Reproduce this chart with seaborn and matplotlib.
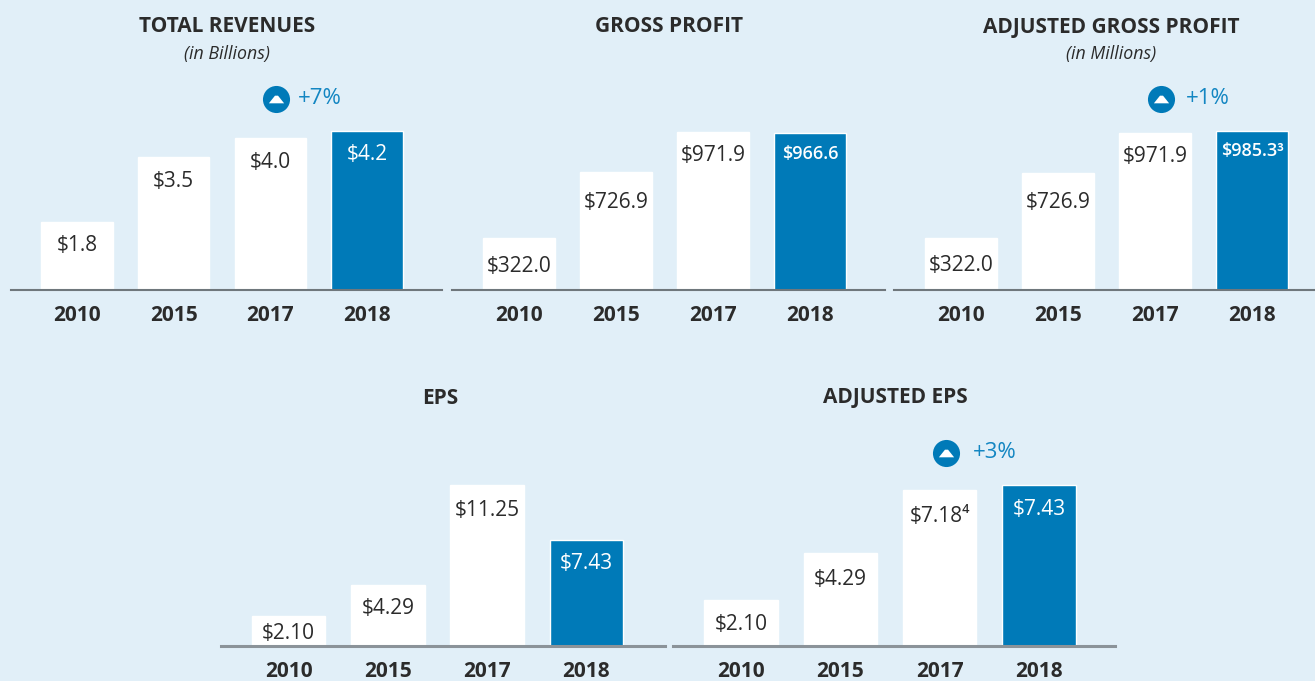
import matplotlib
matplotlib.use('Agg')
import matplotlib.pyplot as plt
import seaborn as sns

years = ['2010', '2015', '2017', '2018']

revenues = [1.8, 3.5, 4.0, 4.2]
gross_profit = [322.0, 726.9, 971.9, 966.6]
adj_gross_profit = [322.0, 726.9, 971.9, 985.3]
eps = [2.10, 4.29, 11.25, 7.43]
adj_eps = [2.10, 4.29, 7.18, 7.43]

revenue_labels = ['$1.8', '$3.5', '$4.0', '$4.2']
gross_labels = ['$322.0', '$726.9', '$971.9', '$966.6']
adj_gross_labels = ['$322.0', '$726.9', '$971.9', '$985.3³']
eps_labels = ['$2.10', '$4.29', '$11.25', '$7.43']
adj_eps_labels = ['$2.10', '$4.29', '$7.18⁴', '$7.43']

W, H = 1315, 681
BG = '#e1eff8'
BLUE = '#007ab8'
DARK = '#2b2b2b'

sns.set_theme(style='white', rc={'figure.facecolor': BG, 'axes.facecolor': BG})
plt.rcParams['font.family'] = ['Open Sans', 'DejaVu Sans']

# pixel layout: line left/right, baseline, first bar centre, bar spacing, px per unit
panels = [
    dict(vals=revenues, labels=revenue_labels, left=11, right=442, base=290, c0=77, step=96.7, scale=37.9,
         offs=[24, 24, 24, 24], small=[], lw=1.5, line='#6f777c'),
    dict(vals=gross_profit, labels=gross_labels, left=452, right=885, base=290, c0=519, step=97, scale=0.1626,
         offs=[29, 31, 24, 21], small=[3], lw=1.5, line='#6f777c'),
    dict(vals=adj_gross_profit, labels=adj_gross_labels, left=894, right=1315, base=290, c0=961, step=97, scale=0.1615,
         offs=[28, 30, 23, 20], small=[3], lw=1.5, line='#6f777c'),
    dict(vals=eps, labels=eps_labels, left=221, right=665, base=646, c0=288.5, step=99.3, scale=14.3,
         offs=[18, 24, 25, 24], small=[], lw=2.2, line='#8b9399'),
    dict(vals=adj_eps, labels=adj_eps_labels, left=673, right=1115, base=646, c0=741, step=99.3, scale=21.67,
         offs=[24, 26, 26, 25], small=[], lw=2.2, line='#8b9399'),
]

titles = [('TOTAL REVENUES', 227, 27), ('GROSS PROFIT', 669, 27), ('ADJUSTED GROSS PROFIT', 1111, 27),
          ('EPS', 440, 398), ('ADJUSTED EPS', 895, 398)]
subtitles = [('(in Billions)', 227, 54), ('(in Millions)', 1111, 54)]
badges = [('+7%', 276, 99, 320, 98), ('+1%', 1161, 99, 1208, 98), ('+3%', 946, 453, 995, 453)]

fig = plt.figure(figsize=(W / 100, H / 100), dpi=100)
palette = {'2010': 'white', '2015': 'white', '2017': 'white', '2018': BLUE}

for p in panels:
    ax_h = 175
    ax = fig.add_axes([p['left'] / W, 1 - p['base'] / H, (p['right'] - p['left']) / W, ax_h / H])
    sns.barplot(x=years, y=p['vals'], hue=years, order=years, hue_order=years, palette=palette,
                dodge=False, width=0.74, saturation=1, legend=False, ax=ax)
    ax.set_xlim((p['left'] - p['c0']) / p['step'], (p['right'] - p['c0']) / p['step'])
    ax.set_ylim(0, ax_h / p['scale'])
    ax.set_yticks([])
    ax.set_xlabel('')
    ax.set_ylabel('')
    sns.despine(ax=ax, left=True)
    ax.spines['bottom'].set_color(p['line'])
    ax.spines['bottom'].set_linewidth(p['lw'])
    ax.tick_params(axis='x', length=0, pad=11)
    for t in ax.get_xticklabels():
        t.set_fontsize(15)
        t.set_fontweight('bold')
        t.set_color(DARK)
    for i, (v, lab, off) in enumerate(zip(p['vals'], p['labels'], p['offs'])):
        ax.annotate(lab, (i, v), xytext=(0, -off), textcoords='offset pixels', ha='center', va='center',
                    fontsize=13 if i in p['small'] else 15,
                    fontweight='semibold' if i in p['small'] else 'medium',
                    color='white' if i == 3 else DARK)

for text, x, y in titles:
    fig.text(x / W, 1 - y / H, text, ha='center', va='center', fontsize=15, fontweight='bold', color=DARK)
for text, x, y in subtitles:
    fig.text(x / W, 1 - y / H, text, ha='center', va='center', fontsize=12.8, style='italic', color=DARK)

# flat little triangle inside the round badge
tri = [(-1, -0.5), (1, -0.5), (0.2, 0.5), (-0.2, 0.5)]
for text, bx, by, tx, ty in badges:
    fig.add_artist(plt.Line2D([bx / W], [1 - by / H], marker='o', markersize=19.5, color=BLUE,
                              markeredgewidth=0, transform=fig.transFigure))
    fig.add_artist(plt.Line2D([bx / W], [1 - by / H], marker=tri, markersize=11, color='white',
                              markeredgewidth=0, transform=fig.transFigure))
    fig.text(tx / W, 1 - ty / H, text, ha='center', va='center', fontsize=16, color='#1386c2')

fig.savefig('out.png', dpi=100, facecolor=BG)
